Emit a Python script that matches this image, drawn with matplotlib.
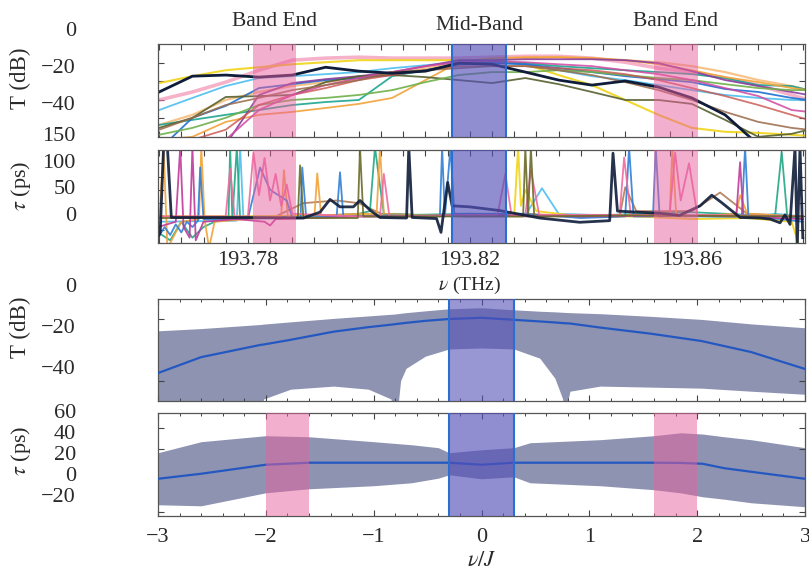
import numpy as np
import matplotlib.pyplot as plt
from matplotlib.transforms import blended_transform_factory, ScaledTranslation
from matplotlib.ticker import MultipleLocator, FuncFormatter

plt.rcParams['font.family'] = ['Liberation Serif', 'DejaVu Serif']
plt.rcParams['mathtext.fontset'] = 'stix'

# ---- measured transmission (dB) on a common frequency grid (THz) ----
freq = [193.764, 193.770, 193.776, 193.782, 193.788, 193.794, 193.800,
        193.806, 193.812, 193.818, 193.824, 193.830, 193.836, 193.842,
        193.848, 193.854, 193.860, 193.866, 193.872, 193.878, 193.881]

t_navy = [-35.8, -27.3, -26.7, -27.8, -26.7, -22.5, -24.6, -25.7, -24.6, -20.3, -20.9,
          -25.1, -29.4, -32.1, -29.9, -33.2, -39.0, -48.1, -64.2, -66.8, -66.8]
t_pink = [-40.1, -35.8, -30.5, -24.1, -18.7, -17.6, -17.1, -17.6, -17.6, -17.6, -17.1,
          -16.6, -16.6, -17.6, -19.8, -23.0, -25.1, -28.3, -32.1, -37.4, -40.1]
t_yellow = [-31.0, -27.3, -24.1, -22.5, -20.9, -19.8, -18.7, -18.7, -18.7, -18.7, -18.7,
            -20.9, -26.7, -32.1, -40.1, -48.1, -55.1, -57.2, -57.8, -58.8, -59.4]
t_cyan = [-45.5, -39.0, -32.6, -28.3, -27.3, -26.2, -25.1, -23.0, -21.4, -19.8, -19.8,
          -20.9, -24.1, -27.3, -29.4, -32.1, -34.8, -37.4, -39.0, -40.1, -40.1]
t_teal = [-53.5, -50.8, -48.1, -45.5, -42.8, -41.2, -40.1, -27.3, -24.1, -20.9, -19.8,
          -20.3, -21.9, -23.0, -24.1, -25.1, -26.2, -28.3, -32.1, -32.6, -34.8]
t_orange = [-61.5, -59.9, -51.9, -48.1, -46.5, -44.4, -42.2, -39.0, -29.4, -19.8, -17.6,
            -17.1, -17.1, -17.6, -18.7, -20.9, -24.1, -27.8, -30.5, -33.7, -34.8]
t_blue = [-66.8, -49.7, -43.3, -33.7, -31.6, -29.4, -28.3, -26.7, -24.1, -20.9, -20.3,
          -20.9, -23.0, -25.1, -27.3, -28.9, -30.5, -34.2, -35.8, -39.0, -40.1]
t_purple = [-66.8, -66.8, -64.2, -37.4, -31.0, -28.9, -27.3, -25.1, -21.9, -18.7, -18.7,
            -18.2, -18.2, -18.2, -18.7, -20.3, -24.6, -29.4, -32.6, -35.8, -37.4]
t_olive = [-55.1, -49.7, -38.5, -38.0, -37.4, -30.5, -27.3, -26.7, -27.8, -29.4, -31.0,
           -28.3, -31.6, -35.8, -40.1, -40.1, -42.2, -50.8, -59.9, -58.3, -56.1]
t_green = [-58.8, -55.1, -49.7, -42.8, -40.1, -39.0, -37.4, -34.8, -30.5, -26.7, -25.1,
           -25.1, -24.1, -25.1, -26.7, -28.3, -29.4, -31.6, -33.7, -34.8, -34.8]
t_red = [-64.2, -61.5, -56.1, -42.8, -37.4, -33.7, -29.4, -26.7, -24.1, -21.9, -21.9,
         -21.9, -23.0, -24.1, -26.2, -29.4, -33.7, -38.0, -42.8, -48.1, -50.8]
t_magenta = [-66.8, -66.8, -61.5, -45.5, -37.4, -32.1, -28.3, -25.1, -21.9, -19.8, -19.3,
             -19.8, -20.9, -21.9, -24.1, -26.2, -29.4, -33.7, -38.0, -45.5, -46.5]
t_peach = [-53.5, -48.1, -40.1, -35.8, -32.6, -30.5, -28.3, -26.2, -23.0, -20.3, -18.7,
           -17.6, -17.1, -17.6, -18.7, -19.8, -21.9, -25.1, -29.4, -32.6, -34.8]
t_brown = [-56.1, -49.7, -42.8, -39.0, -34.8, -32.1, -29.4, -25.1, -24.1, -23.0, -21.9,
           -21.9, -24.1, -26.7, -30.5, -34.8, -40.1, -46.5, -51.9, -55.1, -56.1]

# ---- measured group delay (THz, ps) ----
tau_navy = [(193.7638, -40), (193.7642, -30), (193.7648, 130), (193.7655, 130), (193.7662, -2),
            (193.7800, -2), (193.7900, -3), (193.7930, 8), (193.7948, 32), (193.7966, 18),
            (193.7990, 18), (193.8002, 30), (193.8020, 12), (193.8038, -2), (193.8086, -3),
            (193.8090, 130), (193.8096, -2), (193.8140, -4), (193.8148, -30), (193.8160, 64),
            (193.8168, 20), (193.8200, 18), (193.8254, 11), (193.8326, -3), (193.8398, -11),
            (193.8452, -8), (193.8458, 119), (193.8466, 10), (193.8542, 6), (193.8578, 2),
            (193.8615, 20), (193.8636, 40), (193.8655, 25), (193.8687, -2), (193.8723, -3),
            (193.8741, -5), (193.8759, -12), (193.8768, 3), (193.8777, -15), (193.8786, 130),
            (193.8790, -60), (193.8795, 130), (193.8800, -40)]
tau_blue = [(193.7638, -40), (193.7650, -20), (193.7660, -35), (193.7670, -15), (193.7680, -30),
            (193.7690, -10), (193.7700, -20), (193.7710, -8), (193.7714, 92), (193.7720, -5),
            (193.7750, -5), (193.7800, -4), (193.7822, 92), (193.7840, 50), (193.7870, 30),
            (193.7880, -2), (193.7895, -2), (193.7898, 92), (193.7905, -2), (193.7960, 0),
            (193.7966, 83), (193.7972, 0), (193.8050, 2), (193.8146, 0), (193.8150, 130),
            (193.8155, 0), (193.8165, 130), (193.8172, 5), (193.8300, 5), (193.8400, -3),
            (193.8480, 0), (193.8487, 130), (193.8495, 0), (193.8530, 0), (193.8535, 130),
            (193.8542, 0), (193.8570, 2), (193.8650, 0), (193.8690, 0), (193.8696, 130),
            (193.8702, 0), (193.8760, -5), (193.8800, -10)]
tau_green = [(193.7638, -30), (193.7660, -45), (193.7680, -10), (193.7700, -40), (193.7720, -20),
             (193.7740, -10), (193.7765, -5), (193.7768, 130), (193.7772, -5), (193.7780, 130),
             (193.7786, -3), (193.7900, 0), (193.8000, 5), (193.8020, 10), (193.8029, 130),
             (193.8036, 74), (193.8045, 5), (193.8100, 3), (193.8200, 5), (193.8300, 3),
             (193.8400, 0), (193.8500, 5), (193.8600, 8), (193.8700, 3), (193.8750, 0),
             (193.8762, 121), (193.8772, 0), (193.8800, -5)]
tau_orange = [(193.7638, -50), (193.7648, 130), (193.7655, -60), (193.7680, -10), (193.7712, -5),
              (193.7716, 130), (193.7722, -5), (193.7730, -60), (193.7740, -10), (193.7800, -5),
              (193.7860, 0), (193.7865, 87), (193.7872, 0), (193.7920, 2), (193.7925, 81),
              (193.7932, 2), (193.8000, 5), (193.8032, 5), (193.8038, 130), (193.8045, 5),
              (193.8100, 2), (193.8200, 0), (193.8300, 5), (193.8400, 0), (193.8500, 3),
              (193.8560, 0), (193.8565, 130), (193.8572, 0), (193.8600, 0), (193.8680, 5),
              (193.8687, 40), (193.8700, 5), (193.8800, 0)]
tau_magenta = [(193.7638, -20), (193.7670, -10), (193.7678, 130), (193.7684, -20), (193.7695, -40),
               (193.7700, 130), (193.7706, -45), (193.7720, -10), (193.7780, -5), (193.7830, -10),
               (193.7840, -17), (193.7850, -5), (193.8000, 0), (193.8100, 0), (193.8200, 3),
               (193.8400, 0), (193.8600, 2), (193.8680, 0), (193.8687, 102), (193.8693, 0),
               (193.8800, -5)]
tau_pink = [(193.7638, 0), (193.7760, 0), (193.7768, 90), (193.7776, 0), (193.7800, 0),
            (193.7810, 120), (193.7820, 40), (193.7830, 110), (193.7840, 30), (193.7850, 80),
            (193.7860, 20), (193.7870, 60), (193.7880, 5), (193.8000, 0), (193.8038, 0),
            (193.8045, 80), (193.8055, 0), (193.8200, 3), (193.8250, 3), (193.8264, 80),
            (193.8275, 3), (193.8300, 3), (193.8310, 87), (193.8325, 3), (193.8470, 3),
            (193.8478, 111), (193.8490, 3), (193.8560, 3), (193.8570, 120), (193.8580, 30),
            (193.8595, 100), (193.8610, 3), (193.8800, 0)]
tau_yellow = [(193.7638, 0), (193.7800, 0), (193.8000, 3), (193.8200, 2), (193.8280, 3),
              (193.8287, 130), (193.8292, 20), (193.8300, 50), (193.8320, 10), (193.8400, 0),
              (193.8500, 0), (193.8600, -5), (193.8700, -3), (193.8780, -10), (193.8795, -60)]
tau_olive = [(193.7638, -3), (193.7890, -3), (193.7894, 96), (193.7900, -3), (193.7998, -3),
             (193.8002, 130), (193.8008, 0), (193.8100, 0), (193.8296, 0), (193.8300, 130),
             (193.8305, 0), (193.8310, 130), (193.8316, 0), (193.8500, 2), (193.8800, 0)]
tau_brown = [(193.7638, 0), (193.7850, 0), (193.7900, 25), (193.7960, 30), (193.8000, 25),
             (193.8040, 5), (193.8200, 0), (193.8470, 0), (193.8480, 55), (193.8500, 10),
             (193.8600, 10), (193.8651, 45), (193.8700, 5), (193.8800, 0)]
tau_cyan = [(193.7638, -10), (193.7780, -8), (193.7786, 130), (193.7792, -5), (193.8000, 0),
            (193.8300, 2), (193.8330, 53), (193.8360, 5), (193.8500, 0), (193.8600, 0),
            (193.8700, -2), (193.8750, 5), (193.8800, 0)]

band_lo = (193.7809, 193.7887)
band_mid = (193.8168, 193.8265)
band_hi = (193.8532, 193.8611)
freq_labels = [193.78, 193.82, 193.86]

# ---- model: transmission mean and spread vs nu/J ----
nu3 = [-3.0, -2.6, -2.05, -2.02, -1.77, -1.37, -1.05, -0.84, -0.81, -0.78, -0.75, -0.70, -0.52,
       -0.30, 0.0, 0.30, 0.54, 0.68, 0.75, 0.78, 0.82, 1.1, 1.57, 2.04, 2.5, 3.0]
t_mean = [-46.3, -38.5, -32.5, -32.3, -30.0, -26.0, -23.8, -22.6, -22.4, -22.2, -22.0, -21.7, -20.7,
          -19.8, -19.2, -20.2, -21.0, -21.5, -21.8, -21.9, -22.0, -24.0, -27.0, -30.6, -36.0, -44.3]
t_upper = [-25.6, -24.5, -22.5, -22.3, -21.2, -19.5, -18.3, -17.5, -17.4, -17.2, -17.0, -16.7, -15.8,
           -14.8, -14.3, -15.3, -16.0, -16.3, -16.5, -16.6, -16.7, -17.2, -18.5, -20.0, -22.2, -24.1]
t_lower = [-65.0, -65.0, -65.0, -59.0, -54.2, -52.7, -54.2, -59.0, -65.0, -65.0, -50.0, -44.0, -38.0,
           -34.5, -34.0, -34.5, -39.0, -48.8, -58.6, -65.0, -55.2, -52.7, -53.2, -53.7, -55.2, -56.7]

# ---- model: group delay mean and spread vs nu/J ----
nu4 = [-3.0, -2.6, -2.0, -1.6, -1.0, -0.65, -0.4, -0.3, 0.0, 0.3, 0.45, 1.1, 1.6, 1.85, 2.05,
       2.25, 2.5, 3.0]
tau_mean = [-8.6, -3.8, 4.8, 6.7, 6.7, 6.7, 6.7, 6.7, 4.8, 6.7, 6.7, 6.7, 6.7, 6.5, 5.7, 1.5, -1.9, -8.6]
tau_upper = [16.2, 26.7, 32.4, 31.4, 26.7, 23.8, 21.0, 16.2, 19.0, 21.0, 25.7, 28.6, 32.4, 35.2, 34.0,
             31.4, 28.6, 21.0]
tau_lower = [-33.3, -34.3, -21.9, -18.1, -15.2, -12.4, -8.0, -4.8, -8.6, -6.7, -12.4, -15.2, -19.0,
             -22.0, -25.7, -28.0, -31.4, -35.2]

PINK = '#e8609e'
MID = '#5550b8'
EDGE = '#2a6fd0'
SPREAD = '#8e93b2'
TXT = '#2a2a2a'
FS = 16

fig = plt.figure(figsize=(8.09, 5.70), dpi=100)
W, H = 809.0, 570.0


def panel(left, top, right, bottom):
    ax = fig.add_axes([left / W, 1 - bottom / H, (right - left) / W, (bottom - top) / H])
    for s in ax.spines.values():
        s.set_color('#555555')
        s.set_linewidth(0.9)
    ax.tick_params(direction='in', top=True, right=True, length=4, width=0.8,
                   color='#444444', labelsize=FS, labelcolor=TXT)
    ax.tick_params(which='minor', direction='in', top=True, right=True, length=2.5,
                   width=0.7, color='#444444')
    return ax


def ylabels(ax, values, drop_px):
    # value labels sit a few pixels below their tick height
    off = ScaledTranslation(0, -drop_px / 100.0, fig.dpi_scale_trans)
    tr = blended_transform_factory(ax.transAxes, ax.transData) + off
    for v in values:
        s = str(v).replace('-', '\u2212')
        ax.text(-0.127, v, s, transform=tr, ha='right', va='center', fontsize=FS,
                color=TXT, clip_on=False)


def bands(ax, spans, mid):
    for lo, hi in spans:
        ax.axvspan(lo, hi, color=PINK, alpha=0.5, lw=0, zorder=4)
    ax.axvspan(mid[0], mid[1], color=MID, alpha=0.65, lw=0, zorder=4)
    ax.axvline(mid[0], color=EDGE, lw=1.5, zorder=5)
    ax.axvline(mid[1], color=EDGE, lw=1.5, zorder=5)


def freq_fmt(x, pos):
    for f in freq_labels:
        if abs(x - f) < 1e-6:
            return '%.2f' % f
    return ''


ax1 = panel(158, 44, 805, 137)
ax2 = panel(158, 150, 805, 243)
ax3 = panel(158, 299, 805, 401)
ax4 = panel(158, 413, 805, 516)

# top: transmission spectra
traces = [(t_pink, '#ef7fa6', 2.6, 0.6), (t_peach, '#f7b46a', 1.6, 0.8),
          (t_yellow, '#f0d41a', 1.5, 0.9), (t_cyan, '#4dbeee', 1.3, 0.9),
          (t_teal, '#1aa58f', 1.3, 0.9), (t_orange, '#f2a33a', 1.3, 0.9),
          (t_blue, '#1f6fd0', 1.3, 0.9), (t_purple, '#8a3d9e', 1.3, 0.9),
          (t_olive, '#55602e', 1.3, 0.9), (t_green, '#6fb04a', 1.3, 0.9),
          (t_red, '#c9544d', 1.3, 0.8), (t_magenta, '#d0479f', 1.3, 0.85),
          (t_brown, '#9a6a48', 1.3, 0.85), (t_navy, '#0f1d3a', 2.0, 1.0)]
for vals, c, lw, a in traces:
    ax1.plot(freq, vals, color=c, lw=lw, alpha=a, zorder=2)

# group delay spectra
delays = [(tau_brown, '#b07a55', 1.3), (tau_cyan, '#4dbeee', 1.3), (tau_yellow, '#f0d41a', 1.4),
          (tau_green, '#22a884', 1.3), (tau_orange, '#f2a33a', 1.3), (tau_blue, '#2f7fd6', 1.3),
          (tau_magenta, '#c03a9a', 1.3), (tau_pink, '#f06aa0', 1.3), (tau_olive, '#6b6b2a', 1.3),
          (tau_navy, '#0f1d3a', 2.0)]
for pts, c, lw in delays:
    f, d = zip(*pts)
    ax2.plot(f, d, color=c, lw=lw, alpha=0.9, zorder=2)

for ax in (ax1, ax2):
    ax.set_xlim(193.7638, 193.8804)
    ax.xaxis.set_major_locator(MultipleLocator(0.004))
    bands(ax, [band_lo, band_hi], band_mid)
ax1.xaxis.set_major_formatter(FuncFormatter(lambda x, p: ''))
ax2.xaxis.set_major_formatter(FuncFormatter(freq_fmt))
ax2.tick_params(axis='x', pad=6)

ax1.set_ylim(-60, -10)
ax1.set_yticks([-20, -30, -40, -50])
ax1.set_yticklabels([])
ax2.set_ylim(-50, 125)
ax2.set_yticks([-25, 0, 25, 50, 75, 100])
ax2.set_yticklabels([])

ylabels(ax1, [0, -20, -40], 6)
ylabels(ax2, [150, 100, 50, 0], 0)

for f, s, y in [(sum(band_lo) / 2, 'Band End', 1.245), (sum(band_mid) / 2, 'Mid-Band', 1.2),
                (sum(band_hi) / 2, 'Band End', 1.245)]:
    ax1.text(f, y, s, transform=blended_transform_factory(ax1.transData, ax1.transAxes),
             ha='center', va='center', fontsize=15.5, color=TXT)

ax2.text(0.482, -0.46, r'$\nu$ (THz)', transform=ax2.transAxes, ha='center', va='center',
         fontsize=14, color=TXT)

# model transmission
ax3.fill_between(nu3, t_lower, t_upper, color=SPREAD, lw=0, zorder=1)
ax3.plot(nu3, t_mean, color='#2458c0', lw=1.6, zorder=3)
ax3.axvspan(-0.3, 0.3, color=MID, alpha=0.6, lw=0, zorder=4)
ax3.axvline(-0.3, color=EDGE, lw=1.5, zorder=5)
ax3.axvline(0.3, color=EDGE, lw=1.5, zorder=5)
ax3.set_ylim(-60, -10)
ax3.set_yticks([-20, -50])
ax3.set_yticklabels([])
ylabels(ax3, [0, -20, -40], 9)

# model group delay
ax4.fill_between(nu4, tau_lower, tau_upper, color=SPREAD, lw=0, zorder=1)
ax4.plot(nu4, tau_mean, color='#2458c0', lw=1.6, zorder=3)
bands(ax4, [(-2.0, -1.6), (1.6, 2.0)], (-0.3, 0.3))
ax4.set_ylim(-44, 54)
ax4.set_yticks([40, 20, -40])
ax4.set_yticklabels([])
ylabels(ax4, [60, 40, 20, 0, -20], 6.5)

for ax in (ax3, ax4):
    ax.set_xlim(-3, 3)
    ax.set_xticks([-3, -2, -1, 0, 1, 2, 3])
    ax.xaxis.set_minor_locator(MultipleLocator(0.2))
ax3.set_xticklabels([])
ax4.set_xticklabels(['\u22123', '\u22122', '\u22121', '0', '1', '2', '3'])
ax4.tick_params(axis='x', pad=9)
ax4.text(0.5, -0.44, r'$\nu/J$', transform=ax4.transAxes, ha='center', va='center',
         fontsize=16, color=TXT)

# axis titles
ax1.text(-0.212, 0.634, 'T (dB)', transform=ax1.transAxes, rotation=90, ha='center',
         va='center', fontsize=16.5, color=TXT)
ax2.text(-0.212, 0.613, r'$\tau$ (ps)', transform=ax2.transAxes, rotation=90, ha='center',
         va='center', fontsize=16, color=TXT)
ax3.text(-0.212, 0.725, 'T (dB)', transform=ax3.transAxes, rotation=90, ha='center',
         va='center', fontsize=16.5, color=TXT)
ax4.text(-0.212, 0.631, r'$\tau$ (ps)', transform=ax4.transAxes, rotation=90, ha='center',
         va='center', fontsize=16, color=TXT)

fig.savefig('out.png', dpi=100)
